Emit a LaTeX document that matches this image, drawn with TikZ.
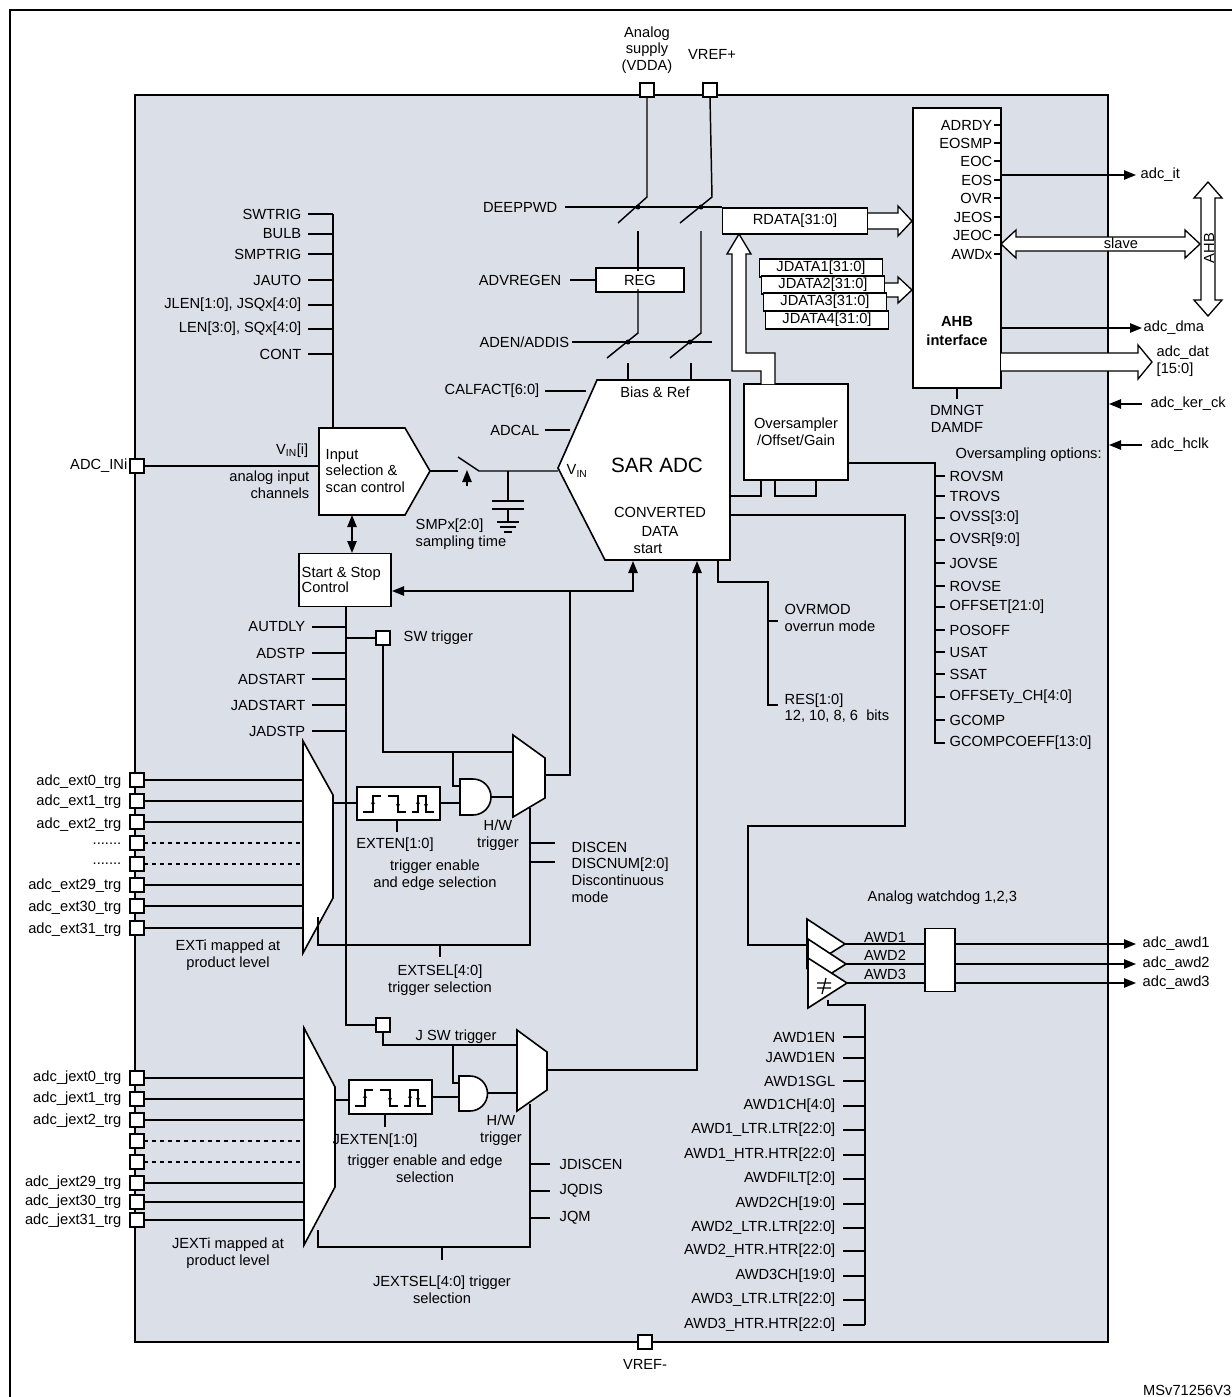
\documentclass[tikz,border=0pt]{standalone}
\usepackage{fontspec}
\setmainfont{Liberation Sans}
\usetikzlibrary{arrows.meta}
\definecolor{bg}{RGB}{219,223,231}
\newcommand\myedges{%
 \draw[line width=1pt] (6,25)--(16,25)--(16,9)--(24,9);
 \draw[line width=0.8pt,-{Stealth[length=3pt,width=3pt]}] (16,20)--(16,13);
 \draw[line width=1pt] (31,9)--(41,9)--(41,25)--(49,25);
 \draw[line width=0.8pt,-{Stealth[length=3pt,width=3pt]}] (41,14)--(41,21);
 \draw[line width=1pt] (55,25)--(61,25)--(61,9)--(69,9)--(69,25)--(77,25);
 \draw[line width=0.8pt,-{Stealth[length=3pt,width=3pt]}] (61,20)--(61,13);
 \draw[line width=0.8pt,-{Stealth[length=3pt,width=3pt]}] (69,14)--(69,21);}
\begin{document}
\begin{tikzpicture}[x=0.75pt,y=-0.75pt,font=\fontsize{11}{12.5}\selectfont,line width=1.1pt,
 box/.style={draw,fill=white,line width=1.2pt},
 lbl/.style={inner sep=0pt},
 L/.style={lbl,anchor=east}, R/.style={lbl,anchor=west}, C/.style={lbl,align=center},
 arr/.style={-{Triangle[length=9pt,width=7pt]}},
 pin/.style={draw,fill=white,minimum size=10.5pt,inner sep=0pt,line width=0.9pt}]
\useasboundingbox (0,0) rectangle (1232,1397);
\fill[white] (0,0) rectangle (1232,1397);
\draw[line width=1.3pt] (10,1400)--(10,10)--(1240,10);
\draw[fill=bg,line width=1.6pt] (135,95) rectangle (1108,1342);

% ---------- supplies ----------
\node[C] (vddal) at (647,50) {Analog\\supply\\(VDDA)};
\node[C] (vrefl) at (712,54) {VREF+};
\node[pin] (vdda) at (647,90) {};
\node[pin] (vrefp) at (710,90) {};
\draw (vdda.south)--(647,197)--(618,223);
\draw (vrefp.south)--(712,197)--(680,223);
\node[L] (deep) at (558,207) {DEEPPWD};
\draw (565,207)--(722,207);
\fill (638,207) circle (2.5) (701,207) circle (2.5);
\node[box,minimum width=66pt,minimum height=18pt,inner sep=0pt] (reg) at (640,280) {REG};
\node[L] (advr) at (562,280) {ADVREGEN};
\draw (570,280)--(reg.west);
\draw (638,231)--(638,271);
\draw (638,289)--(638,333)--(607,358);
\draw (701,231)--(701,333)--(670,358);
\node[L] (aden) at (570,342) {ADEN/ADDIS};
\draw (572,342)--(712,342);
\fill (628,342) circle (2.5) (690,342) circle (2.5);
\draw (628,363)--(628,380) (691,363)--(691,380);

% ---------- SAR ADC ----------
\draw[box] (597,380)--(730,380)--(730,560)--(605,560)--(558,468)--cycle;
\node[C] (bias) at (655,392) {Bias \& Ref};
\node[C,font=\fontsize{15.5}{16}\selectfont] (sar) at (657,465) {SAR ADC};
\node[C] (conv) at (660,512) {CONVERTED};
\node[C] (data) at (660,531) {DATA};
\node[C] (strt) at (648,549) {start};
\node[R] (vin) at (566,471) {V\textsubscript{IN}};
\node[L] (calf) at (540,391) {CALFACT[6:0]};
\draw (545,391)--(586,391);
\node[L] (adcal) at (540,430) {ADCAL};
\draw (545,430)--(570,430);

% ---------- RDATA / JDATA / oversampler ----------
\node[box,minimum width=109pt,minimum height=19.5pt,inner sep=0pt] (rdata) at (795,221) {RDATA[31:0]};
\draw[fill=white,line width=1pt] (868,213)--(898,213)--(898,206)--(912,221)--(898,236)--(898,229)--(868,229);
\draw[fill=white,line width=1pt] (884,283)--(898,283)--(898,277)--(912,290)--(898,303)--(898,297)--(884,297);
\node[box,minimum width=92pt,minimum height=13.5pt,inner sep=0pt] (j1) at (821,268) {JDATA1[31:0]};
\node[box,minimum width=92pt,minimum height=13.5pt,inner sep=0pt] (j2) at (823,285) {JDATA2[31:0]};
\node[box,minimum width=92pt,minimum height=13.5pt,inner sep=0pt] (j3) at (825,302) {JDATA3[31:0]};
\node[box,minimum width=92pt,minimum height=13.5pt,inner sep=0pt] (j4) at (827,320) {JDATA4[31:0]};
\node[box,minimum width=78pt,minimum height=72pt,inner sep=0pt,align=center] (ovs) at (796,432) {Oversampler\\/Offset/Gain};
\draw[fill=white,line width=1pt] (761,384)--(761,371)--(732,371)--(732,254)--(727,254)--(739,234)--(751,254)--(746,254)--(746,353)--(775,353)--(775,384);
\draw (730,496)--(761,496)--(761,480);
\draw (775,480)--(775,496)--(816,496)--(816,480);
\draw (848,463)--(935,463)--(935,743)--(945,743);
\node[R] (ovo) at (955,455) {Oversampling options:};
\foreach \t/\y in {ROVSM/476,TROVS/496,OVSS[3:0]/518,OVSR[9:0]/540,JOVSE/563,ROVSE/586,OFFSET[21:0]/607,POSOFF/630,USAT/652,SSAT/674,OFFSETy\_CH[4:0]/697,GCOMP/720,GCOMPCOEFF[13:0]/743}
 {\draw (935,\y)--(945,\y); \node[R] at (949,\y) {\t};}

% ---------- AHB interface ----------
\node[box,minimum width=66pt,minimum height=210pt,inner sep=0pt] (ahb) at (957,248) {};
\node[C,font=\fontsize{11}{14}\selectfont\bfseries] (ahbt) at (957,331) {AHB\\interface};
\foreach \t/\y in {ADRDY/125,EOSMP/143,EOC/161,EOS/180,OVR/198,JEOS/217,JEOC/235,AWDx/254}
 {\node[L] at (993,\y) {\t}; \draw[line width=0.8pt] (994,\y)--(1001,\y);}
\draw (957,388)--(957,399);
\node[C] (dmngt) at (957,419) {DMNGT\\DAMDF};
\draw[arr] (1001,175)--(1136,175);
\node[R] (adcit) at (1140,175) {adc\_it};
\draw[fill=white,line width=1pt] (1001,244)--(1016,230)--(1016,237)--(1185,237)--(1185,230)--(1200,244)--(1185,258)--(1185,251)--(1016,251)--(1016,258)--cycle;
\node[lbl] (slave) at (1121,243) {slave};
\draw[fill=white,line width=1pt] (1208,182)--(1222,198)--(1215,198)--(1215,300)--(1222,300)--(1208,316)--(1194,300)--(1201,300)--(1201,198)--(1194,198)--cycle;
\node[lbl,rotate=90] (ahbl) at (1209,248) {AHB};
\draw[arr] (1001,328)--(1142,328);
\node[R] (dma) at (1143,328) {adc\_dma};
\draw[fill=white,line width=1pt] (1001,353)--(1138,353)--(1138,345)--(1152,362)--(1138,379)--(1138,371)--(1001,371);
\node[R,align=left] (dat) at (1156,361) {adc\_dat\\{}[15:0]};
\draw[arr] (1142,404)--(1109,404);
\node[R] (ker) at (1150,404) {adc\_ker\_ck};
\draw[arr] (1142,445)--(1109,445);
\node[R] (hclk) at (1150,445) {adc\_hclk};

% ---------- Input selection ----------
\draw[box] (319,428)--(405,428)--(430,471)--(405,515)--(319,515)--cycle;
\node[R,align=left] (insel) at (325,471) {Input\\selection \&\\scan control};
\node[pin] (adcin) at (137,466) {};
\node[L] (adcinl) at (128,466) {ADC\_INi};
\draw (adcin.east)--(319,466);
\node[L] (vini) at (309,451) {V\textsubscript{IN}[i]};
\node[L,align=right] (ainc) at (310,485) {analog input\\channels};
\draw (333,214)--(333,428);
\foreach \t/\y in {SWTRIG/214,BULB/234,SMPTRIG/254,JAUTO/280,{JLEN[1:0], JSQx[4:0]}/305,{LEN[3:0], SQx[4:0]}/329,CONT/354}
 {\draw (308,\y)--(333,\y); \node[L] at (302,\y) {\t};}
\draw (430,471)--(458,471);
\draw (458,457)--(479,471)--(558,471);
\draw[arr] (467,486)--(467,470);
\draw (508,471)--(508,501) (492,501)--(524,501) (492,509)--(524,509) (508,509)--(508,522)
 (497,522)--(519,522) (500,527)--(516,527) (504,532)--(512,532);
\node[R,align=left] (smp) at (415,534) {SMPx[2:0]\\sampling time};

% ---------- Start & Stop ----------
\node[box,minimum width=69pt,minimum height=40pt,inner sep=0pt] (ss) at (345,580) {};
\node[R,align=left,font=\fontsize{11}{11.5}\selectfont] (sst) at (301,580) {Start \& Stop\\Control};
\draw[{Triangle[length=9pt,width=7pt]}-{Triangle[length=9pt,width=7pt]}] (352,515)--(352,553);
\draw[arr] (570,591)--(392,591);
\draw[arr] (570,591)--(633,591)--(633,561);
\draw (346,606)--(346,1025)--(376,1025);
\foreach \t/\y in {AUTDLY/627,ADSTP/653,ADSTART/679,JADSTART/705,JADSTP/731}
 {\draw (312,\y)--(346,\y); \node[L] at (306,\y) {\t};}
\node[pin] (sw) at (383,638) {};
\draw (346,638)--(sw.west);
\node[R] (swl) at (403,638) {SW trigger};
\draw (sw.south)--(383,752)--(513,752);
\draw (453,752)--(453,786)--(460,786);

% ---------- EXT trigger mux ----------
\draw[box] (303,741)--(333,795)--(333,898)--(303,953)--cycle;
\foreach \n/\y in {0/780,1/801,2/822,3/843,4/864,5/885,6/906,7/928}
 {\node[pin] (e\n) at (137,\y) {};}
\foreach \y in {780,801,822,885,906,928} {\draw (144,\y)--(303,\y);}
\foreach \y in {843,864} {\draw[dashed] (144,\y)--(303,\y);}
\foreach \t/\y in {adc\_ext0\_trg/782,adc\_ext1\_trg/802,adc\_ext2\_trg/825,{.......}/844,{.......}/864,adc\_ext29\_trg/886,adc\_ext30\_trg/908,adc\_ext31\_trg/930}
 {\node[L] at (122,\y) {\t};}
\node[C] (exti) at (228,955) {EXTi mapped at\\product level};
\draw (333,803)--(357,803);
\draw[box] (357,787) rectangle (440,820);
\begin{scope}[shift={(357,787)}]\myedges\end{scope}
\draw (440,803)--(460,803);
\draw[box] (460,779)--(473,779) arc (-90:90:18)--(460,815)--cycle;
\draw (491,797)--(513,797);
\draw[box] (513,735)--(545,758)--(545,798)--(513,817)--cycle;
\draw (545,775)--(570,775)--(570,591);
\node[C] (hw1) at (498,835) {H/W\\trigger};
\draw (397,820)--(397,832);
\node[C] (exten) at (395,845) {EXTEN[1:0]};
\node[C] (extend) at (435,875) {trigger enable\\and edge selection};
\draw (318,917)--(318,945)--(530,945)--(530,808);
\draw (530,843)--(555,843) (530,862)--(555,862);
\node[R,align=left] (disc) at (571,872) {DISCEN\\DISCNUM[2:0]\\Discontinuous\\mode};
\draw (440,945)--(440,957);
\node[C] (extsel) at (440,980) {EXTSEL[4:0]\\trigger selection};

% ---------- JEXT trigger mux ----------
\node[pin] (jsw) at (383,1025) {};
\node[R] (jswl) at (415,1037) {J SW trigger};
\draw (jsw.south)--(383,1045)--(517,1045);
\draw (453,1045)--(453,1083)--(459,1083);
\draw[box] (304,1028)--(335,1087)--(335,1187)--(304,1245)--cycle;
\foreach \n/\y in {0/1078,1/1099,2/1120,3/1141,4/1162,5/1183,6/1202,7/1220}
 {\node[pin] (je\n) at (137,\y) {};}
\foreach \y in {1078,1099,1120,1183,1202,1220} {\draw (144,\y)--(304,\y);}
\foreach \y in {1141,1162} {\draw[dashed] (144,\y)--(304,\y);}
\foreach \t/\y in {adc\_jext0\_trg/1078,adc\_jext1\_trg/1099,adc\_jext2\_trg/1121,adc\_jext29\_trg/1183,adc\_jext30\_trg/1202,adc\_jext31\_trg/1221}
 {\node[L] at (122,\y) {\t};}
\node[C] (jexti) at (228,1253) {JEXTi mapped at\\product level};
\draw (335,1100)--(349,1100);
\draw[box] (349,1080) rectangle (432,1114);
\begin{scope}[shift={(349,1081)}]\myedges\end{scope}
\draw (432,1097)--(459,1097);
\draw[box] (459,1076)--(470,1076) arc (-90:90:17.5)--(459,1111)--cycle;
\draw (488,1093)--(517,1093);
\draw[box] (517,1030)--(547,1052)--(547,1090)--(517,1111)--cycle;
\draw[arr] (547,1070)--(697,1070)--(697,561);
\node[C] (hw2) at (501,1130) {H/W\\trigger};
\draw (385,1114)--(385,1127);
\node[C] (jexten) at (375,1141) {JEXTEN[1:0]};
\node[C] (jextend) at (425,1169) {trigger enable and edge\\selection};
\draw (318,1230)--(318,1247)--(530,1247)--(530,1104);
\foreach \t/\y in {JDISCEN/1164,JQDIS/1191,JQM/1218}
 {\draw (530,\y)--(550,\y); \node[R] at (559,\y) {\t};}
\draw (442,1247)--(442,1260);
\node[C] (jextsel) at (442,1290) {JEXTSEL[4:0] trigger\\selection};

% ---------- overrun / resolution ----------
\draw (718,560)--(718,582)--(768,582)--(768,705)--(778,705);
\draw (768,621)--(778,621);
\node[R,align=left] (ovr) at (784,618) {OVRMOD\\overrun mode};
\node[R,align=left] (res) at (784,708) {RES[1:0]\\12, 10, 8, 6\ \ bits};

% ---------- analog watchdog ----------
\draw (730,515)--(905,515)--(905,826)--(748,826)--(748,945)--(808,945);
\node[R] (awdt) at (867,898) {Analog watchdog 1,2,3};
\draw[box] (807,919)--(845,944)--(807,968)--cycle;
\draw[box] (808,939)--(846,964)--(808,988)--cycle;
\draw[box] (808,958)--(847,983)--(808,1008)--cycle;
\draw[line width=0.9pt] (817,983)--(831,983) (817,988)--(831,988) (826,978)--(822,994);
\node[box,minimum width=22.5pt,minimum height=47pt,inner sep=0pt] (awdbox) at (940,960) {};
\draw (845,944)--(925,944) (846,964)--(925,964) (847,983)--(925,983);
\node[lbl] (a1) at (885,937) {AWD1};
\node[lbl] (a2) at (885,955) {AWD2};
\node[lbl] (a3) at (885,974) {AWD3};
\foreach \n/\y in {1/944,2/964,3/983}
 {\draw[arr] (955,\y)--(1136,\y); \node[R] at (1142,\y) {adc\_awd\n};}
\draw (828,1000)--(828,1005)--(865,1005)--(865,1325);
\foreach \t/\y in {AWD1EN/1037,JAWD1EN/1058,AWD1SGL/1081,AWD1CH[4:0]/1106,AWD1\_LTR.LTR[22:0]/1130,AWD1\_HTR.HTR[22:0]/1155,AWDFILT[2:0]/1179,AWD2CH[19:0]/1204,AWD2\_LTR.LTR[22:0]/1228,AWD2\_HTR.HTR[22:0]/1251,AWD3CH[19:0]/1276,AWD3\_LTR.LTR[22:0]/1300,AWD3\_HTR.HTR[22:0]/1325}
 {\draw (843,\y)--(865,\y); \node[L] at (836,\y) {\t};}

% ---------- bottom ----------
\node[pin] (vrefm) at (645,1342) {};
\node[lbl] (vrefml) at (645,1364) {VREF-};
\node[lbl,anchor=east] (msv) at (1232,1390) {MSv71256V3};
\end{tikzpicture}
\end{document}
